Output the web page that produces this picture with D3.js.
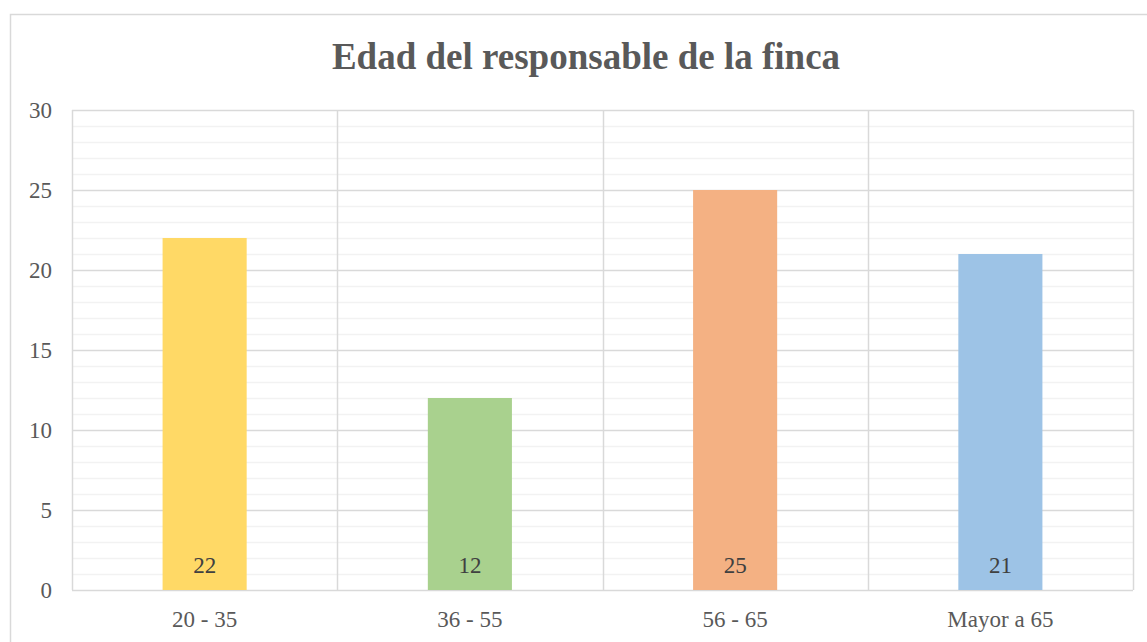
<!DOCTYPE html>
<html>
<head>
<meta charset="utf-8">
<script src="https://cdn.jsdelivr.net/npm/d3@7"></script>
<style>
  html, body { margin: 0; padding: 0; background: #fff; }
  svg { display: block; }
  text { font-family: "Liberation Serif", "Times New Roman", serif; }
</style>
</head>
<body>
<svg id="chart" width="1147" height="642"></svg>
<script>
// Age groups of the farm's person in charge
const categories = ["20 - 35", "36 - 55", "56 - 65", "Mayor a 65"];
const counts = [22, 12, 25, 21];
const barColors = ["#FFD966", "#A9D18E", "#F4B183", "#9DC3E6"];
const yTicks = [0, 5, 10, 15, 20, 25, 30];
const chartTitle = "Edad del responsable de la finca";

const svg = d3.select("#chart");
const plot = { left: 72, top: 110, right: 1133, bottom: 590 };

// outer chart frame
svg.append("rect")
  .attr("x", 10.5).attr("y", 14.5)
  .attr("width", 1160).attr("height", 660)
  .attr("fill", "#fff").attr("stroke", "#D9D9D9").attr("stroke-width", 1.5);

const x = d3.scaleBand().domain(categories).range([plot.left, plot.right]).paddingInner(0).paddingOuter(0);
const y = d3.scaleLinear().domain([0, 30]).range([plot.bottom, plot.top]);

// minor gridlines (every unit)
svg.append("g").selectAll("line")
  .data(d3.range(1, 30).filter(v => v % 5 !== 0))
  .join("line")
  .attr("x1", plot.left).attr("x2", plot.right)
  .attr("y1", d => Math.round(y(d)) + 0.5).attr("y2", d => Math.round(y(d)) + 0.5)
  .attr("stroke", "#F2F2F2").attr("stroke-width", 1.5);

// major gridlines
svg.append("g").selectAll("line")
  .data(yTicks)
  .join("line")
  .attr("x1", plot.left).attr("x2", plot.right)
  .attr("y1", d => Math.round(y(d)) + 0.5).attr("y2", d => Math.round(y(d)) + 0.5)
  .attr("stroke", "#D9D9D9").attr("stroke-width", 1.5);

// vertical separators between categories and plot edges
const vLines = [plot.left, ...categories.slice(1).map(c => x(c)), plot.right];
svg.append("g").selectAll("line")
  .data(vLines)
  .join("line")
  .attr("x1", d => Math.round(d) + 0.5).attr("x2", d => Math.round(d) + 0.5)
  .attr("y1", plot.top).attr("y2", plot.bottom)
  .attr("stroke", "#D9D9D9").attr("stroke-width", 1.5);

// bars
const barW = x.bandwidth() * 0.317;
svg.append("g").selectAll("rect")
  .data(counts)
  .join("rect")
  .attr("x", (d, i) => x(categories[i]) + x.bandwidth() / 2 - barW / 2)
  .attr("y", d => y(d))
  .attr("width", barW)
  .attr("height", d => y(0) - y(d))
  .attr("fill", (d, i) => barColors[i]);

// value labels at the base of each bar
svg.append("g").selectAll("text")
  .data(counts)
  .join("text")
  .attr("x", (d, i) => x(categories[i]) + x.bandwidth() / 2)
  .attr("y", y(0) - 17)
  .attr("text-anchor", "middle")
  .attr("font-size", 23)
  .attr("fill", "#404040")
  .text(d => d);

// y axis labels
svg.append("g").selectAll("text")
  .data(yTicks)
  .join("text")
  .attr("x", 52)
  .attr("y", d => y(d) + 8)
  .attr("text-anchor", "end")
  .attr("font-size", 23)
  .attr("fill", "#595959")
  .text(d => d);

// x axis labels
svg.append("g").selectAll("text")
  .data(categories)
  .join("text")
  .attr("x", d => x(d) + x.bandwidth() / 2)
  .attr("y", 627)
  .attr("text-anchor", "middle")
  .attr("font-size", 23)
  .attr("fill", "#595959")
  .text(d => d);

// title
svg.append("text")
  .attr("x", 586)
  .attr("y", 69)
  .attr("text-anchor", "middle")
  .attr("font-size", 37)
  .attr("font-weight", "bold")
  .attr("fill", "#595959")
  .text(chartTitle);
</script>
</body>
</html>
